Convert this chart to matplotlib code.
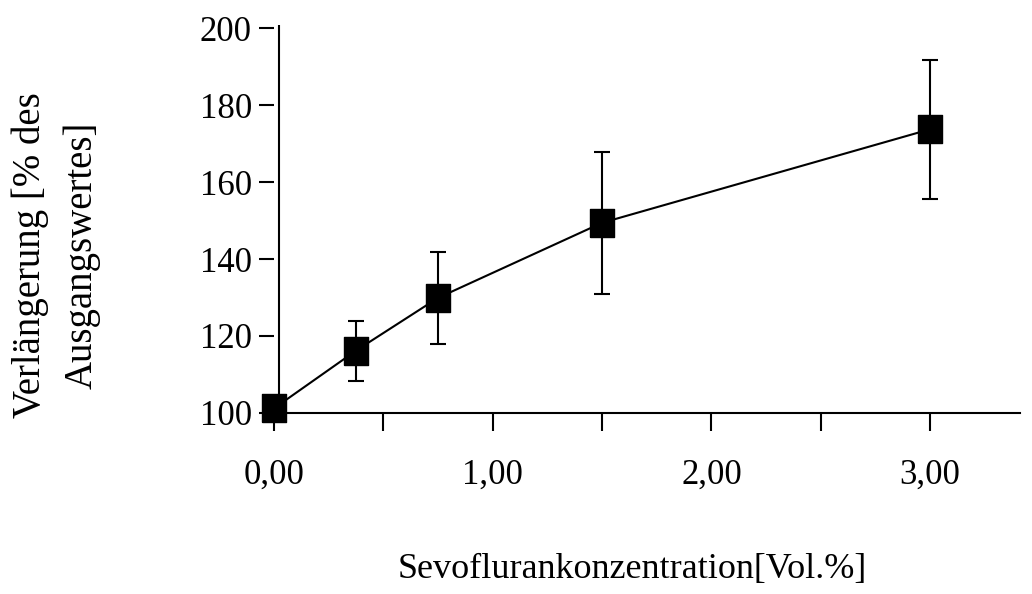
import matplotlib.pyplot as plt
from matplotlib.ticker import FixedLocator, NullFormatter

# Sevofluran-Konzentration [Vol.%] und Verlängerung [% des Ausgangswertes]
konz = [0.0, 0.375, 0.75, 1.5, 3.0]
verl = [101.2, 116.2, 129.9, 149.4, 173.7]
fehler = [0.0, 7.8, 11.9, 18.4, 18.0]

x_major = [0.0, 1.0, 2.0, 3.0]
x_major_lab = ["0,00", "1,00", "2,00", "3,00"]
x_minor = [0.5, 1.5, 2.5]
y_ticks = [100, 120, 140, 160, 180, 200]

plt.rcParams['font.family'] = ['Liberation Serif', 'DejaVu Serif']

fig = plt.figure(figsize=(10.32, 5.94), dpi=100)
ax = fig.add_axes([0.2443, 0.2788, 0.7523, 0.687])

# rechteckiger Marker (etwas höher als breit)
rect = [(-0.43, -0.5), (0.43, -0.5), (0.43, 0.5), (-0.43, 0.5), (-0.43, -0.5)]
ax.errorbar(konz, verl, yerr=fehler, color='black', lw=1.5, elinewidth=1.5,
            capsize=5.5, capthick=1.5, marker=rect, markersize=20,
            markerfacecolor='black', markeredgecolor='black', clip_on=False, zorder=3)

ax.set_xlim(-0.1, 3.45)
ax.set_ylim(96, 202)

# Achsen
for s in ['top', 'right']:
    ax.spines[s].set_visible(False)
ax.spines['left'].set_position(('data', 0.0))
ax.spines['left'].set_visible(False)
ax.spines['bottom'].set_position(('data', 100))
ax.spines['bottom'].set_bounds(0.021, 3.41)
ax.spines['bottom'].set_linewidth(1.5)
ax.vlines(0.021, 100, 200.8, color='black', lw=1.5, zorder=2)

ax.xaxis.set_major_locator(FixedLocator(x_major))
ax.set_xticklabels(x_major_lab)
ax.xaxis.set_minor_locator(FixedLocator(x_minor))
ax.xaxis.set_minor_formatter(NullFormatter())
ax.tick_params(axis='x', which='both', direction='out', length=13, width=1.5,
               pad=20, labelsize=25)
ax.set_yticks(y_ticks)
ax.tick_params(axis='y', direction='out', length=11, width=1.5, pad=5, labelsize=25)

ax.set_xlabel("Sevoflurankonzentration[Vol.%]", fontsize=26)
ax.xaxis.set_label_coords(0.489, -0.305)
ax.set_ylabel("Verlängerung [% des\nAusgangswertes]", fontsize=28,
              multialignment='center', va='center', linespacing=1.5)
ax.yaxis.set_label_coords(-0.2526, 0.425)

fig.savefig("out.png", dpi=100)
